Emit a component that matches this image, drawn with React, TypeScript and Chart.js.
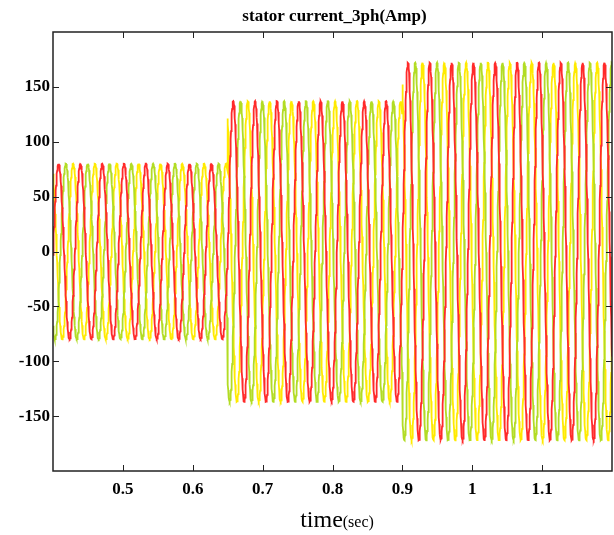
import React, { useEffect, useRef } from "react";
import { Chart, registerables } from "chart.js";

Chart.register(...registerables);

// ---- text ----
const chartTitle = "stator current_3ph(Amp)";
const xTitleMain = "time";
const xTitleUnit = "(sec)";

// ---- values ----
const segmentStartTimes = [0.4, 0.65, 0.9]; // load steps (s)
const segmentEndTime = 1.2;
const segmentPeakAmps = [80, 137, 172]; // peak current of each segment (A)
const supplyFreqHz = 32; // ~8 cycles per 0.25 s
const firstRedPeakTime = 0.408;
const phaseLabels = ["ia", "ib", "ic"];
const phaseLagDeg = [0, 120, 240];
const phaseColors = ["#ff2a2a", "#b2dc24", "#ffea00"];
const sampleStepSec = 0.0004;

const xRange = [0.4, 1.2];
const yRange = [-200, 200];
const xTickValues = [0.5, 0.6, 0.7, 0.8, 0.9, 1.0, 1.1];
const yTickValues = [-150, -100, -50, 0, 50, 100, 150];

const SERIF = '"Liberation Serif", "Times New Roman", serif';

function buildPhase(lagDeg: number) {
  const pts: { x: number; y: number }[] = [];
  const t0 = segmentStartTimes[0];
  const n = Math.round((segmentEndTime - t0) / sampleStepSec);
  for (let i = 0; i <= n; i++) {
    const t = t0 + i * sampleStepSec;
    let seg = 0;
    for (let s = 0; s < segmentStartTimes.length; s++) if (t >= segmentStartTimes[s] - 1e-9) seg = s;
    const amp = segmentPeakAmps[seg];
    pts.push({
      x: t,
      y: amp * Math.cos(2 * Math.PI * supplyFreqHz * (t - firstRedPeakTime) - (lagDeg * Math.PI) / 180),
    });
  }
  return pts;
}

const framePlugin = {
  id: "frameAndTicks",
  afterDatasetsDraw(chart: any) {
    const { ctx, chartArea: a, scales } = chart;
    const xs = scales.x;
    const ys = scales.y;
    ctx.save();
    ctx.strokeStyle = "#222";
    ctx.lineWidth = 1.5;
    ctx.strokeRect(a.left, a.top, a.right - a.left, a.bottom - a.top);
    ctx.lineWidth = 1;
    const tl = 6;
    ctx.beginPath();
    xTickValues.forEach((v) => {
      const px = Math.round(xs.getPixelForValue(v)) + 0.5;
      ctx.moveTo(px, a.bottom);
      ctx.lineTo(px, a.bottom - tl);
      ctx.moveTo(px, a.top);
      ctx.lineTo(px, a.top + tl);
    });
    yTickValues.forEach((v) => {
      const py = Math.round(ys.getPixelForValue(v)) + 0.5;
      ctx.moveTo(a.left, py);
      ctx.lineTo(a.left + tl, py);
      ctx.moveTo(a.right, py);
      ctx.lineTo(a.right - tl, py);
    });
    ctx.stroke();
    ctx.restore();
  },
  afterDraw(chart: any) {
    const { ctx, chartArea: a } = chart;
    ctx.save();
    ctx.fillStyle = "#000";
    ctx.textBaseline = "alphabetic";
    ctx.textAlign = "center";
    ctx.font = `bold 17px ${SERIF}`;
    ctx.fillText(chartTitle, (a.left + a.right) / 2 + 2, 21);
    // x title with smaller unit
    ctx.textAlign = "left";
    ctx.font = `24px ${SERIF}`;
    const w1 = ctx.measureText(xTitleMain).width;
    ctx.font = `16px ${SERIF}`;
    const w2 = ctx.measureText(xTitleUnit).width;
    const cx = 337;
    const startX = cx - (w1 + w2) / 2;
    ctx.font = `24px ${SERIF}`;
    ctx.fillText(xTitleMain, startX, 527);
    ctx.font = `16px ${SERIF}`;
    ctx.fillText(xTitleUnit, startX + w1, 527);
    ctx.restore();
  },
};

export default function App() {
  const ref = useRef<HTMLCanvasElement | null>(null);
  useEffect(() => {
    if (!ref.current) return;
    const datasets = phaseLabels.map((label, i) => ({
      label,
      data: buildPhase(phaseLagDeg[i]),
      borderColor: phaseColors[i],
      borderWidth: 1.8,
      pointRadius: 0,
      fill: false,
      tension: 0,
    }));
    const chart = new Chart(ref.current, {
      type: "line",
      data: { datasets },
      options: {
        responsive: false,
        animation: false,
        devicePixelRatio: 1,
        parsing: false,
        normalized: true,
        layout: { padding: { left: 0, right: 2, top: 32, bottom: 0 } },
        plugins: { legend: { display: false }, title: { display: false }, tooltip: { enabled: false } },
        scales: {
          x: {
            type: "linear",
            min: xRange[0],
            max: xRange[1],
            afterBuildTicks: (s: any) => {
              s.ticks = xTickValues.map((v) => ({ value: v }));
            },
            afterFit: (s: any) => {
              s.height = 64;
            },
            ticks: {
              color: "#000",
              padding: 8,
              maxRotation: 0,
              font: { family: SERIF, size: 17, weight: "bold" },
              callback: (v: any) => String(Math.round(Number(v) * 10) / 10),
            },
            grid: { display: false, drawTicks: false },
            border: { display: false },
          },
          y: {
            type: "linear",
            min: yRange[0],
            max: yRange[1],
            afterBuildTicks: (s: any) => {
              s.ticks = yTickValues.map((v) => ({ value: v }));
            },
            afterFit: (s: any) => {
              s.width = 53;
            },
            ticks: {
              color: "#000",
              padding: 3,
              font: { family: SERIF, size: 17, weight: "bold" },
              callback: (v: any) => String(v),
            },
            grid: { display: false, drawTicks: false },
            border: { display: false },
          },
        },
      },
      plugins: [framePlugin],
    } as any);
    return () => chart.destroy();
  }, []);
  return (
    <div style={{ position: "fixed", left: 0, top: 0, width: 614, height: 535, background: "#fff" }}>
      <canvas ref={ref} width={614} height={535} />
    </div>
  );
}
